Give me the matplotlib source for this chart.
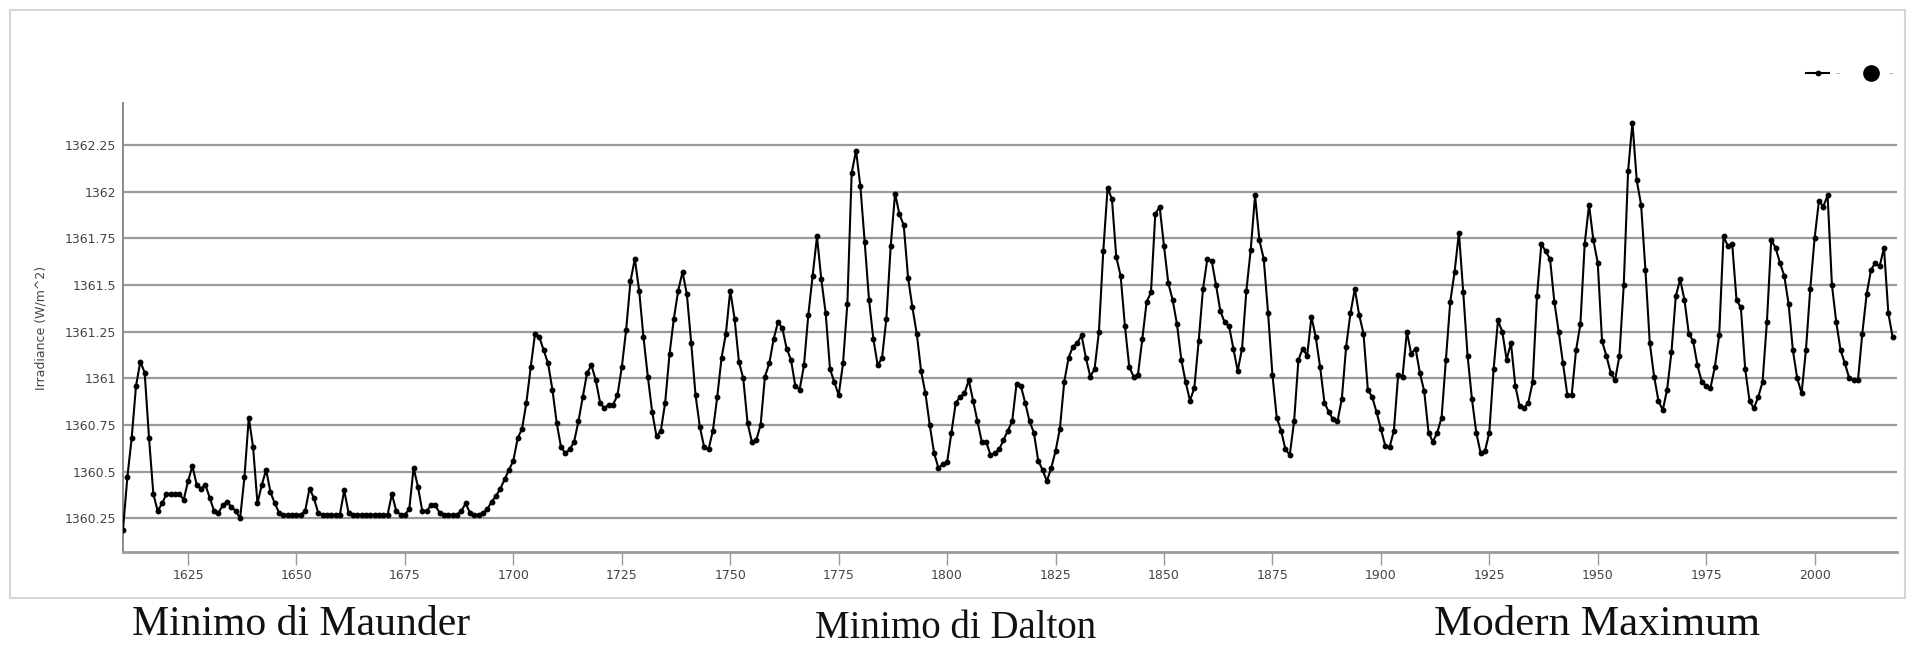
import numpy as np
import matplotlib
matplotlib.use("Agg")
import matplotlib.pyplot as plt
from matplotlib.lines import Line2D
from matplotlib.patches import Rectangle
from matplotlib.ticker import FixedLocator, FixedFormatter

# Total solar irradiance reconstruction, one value per year (W/m^2)
first_year = 1610
last_year = 2018

irr_1610_1699 = [
    1360.19, 1360.47, 1360.68, 1360.96, 1361.09, 1361.03, 1360.68, 1360.38, 1360.29, 1360.33,
    1360.38, 1360.38, 1360.38, 1360.38, 1360.35, 1360.45, 1360.53, 1360.43, 1360.41, 1360.43,
    1360.36, 1360.29, 1360.28, 1360.32, 1360.34, 1360.31, 1360.29, 1360.25, 1360.47, 1360.79,
    1360.63, 1360.33, 1360.43, 1360.51, 1360.39, 1360.33, 1360.28, 1360.27, 1360.27, 1360.27,
    1360.27, 1360.27, 1360.29, 1360.41, 1360.36, 1360.28, 1360.27, 1360.27, 1360.27, 1360.27,
    1360.27, 1360.40, 1360.28, 1360.27, 1360.27, 1360.27, 1360.27, 1360.27, 1360.27, 1360.27,
    1360.27, 1360.27, 1360.38, 1360.29, 1360.27, 1360.27, 1360.30, 1360.52, 1360.42, 1360.29,
    1360.29, 1360.32, 1360.32, 1360.28, 1360.27, 1360.27, 1360.27, 1360.27, 1360.29, 1360.33,
    1360.28, 1360.27, 1360.27, 1360.28, 1360.30, 1360.34, 1360.37, 1360.41, 1360.46, 1360.51,
]

irr_1700_1799 = [
    1360.56, 1360.68, 1360.73, 1360.87, 1361.06, 1361.24, 1361.22, 1361.15, 1361.08, 1360.94,
    1360.76, 1360.63, 1360.60, 1360.62, 1360.66, 1360.77, 1360.90, 1361.03, 1361.07, 1360.99,
    1360.87, 1360.84, 1360.86, 1360.86, 1360.91, 1361.06, 1361.26, 1361.52, 1361.64, 1361.47,
    1361.22, 1361.01, 1360.82, 1360.69, 1360.72, 1360.87, 1361.13, 1361.32, 1361.47, 1361.57,
    1361.45, 1361.19, 1360.91, 1360.74, 1360.63, 1360.62, 1360.72, 1360.90, 1361.11, 1361.24,
    1361.47, 1361.32, 1361.09, 1361.00, 1360.76, 1360.66, 1360.67, 1360.75, 1361.01, 1361.08,
    1361.21, 1361.30, 1361.27, 1361.16, 1361.10, 1360.96, 1360.94, 1361.07, 1361.34, 1361.55,
    1361.76, 1361.53, 1361.35, 1361.05, 1360.98, 1360.91, 1361.08, 1361.40, 1362.10, 1362.22,
    1362.03, 1361.73, 1361.42, 1361.21, 1361.07, 1361.11, 1361.32, 1361.71, 1361.99, 1361.88,
    1361.82, 1361.54, 1361.38, 1361.24, 1361.04, 1360.92, 1360.75, 1360.60, 1360.52, 1360.54,
]

irr_1800_1899 = [
    1360.55, 1360.71, 1360.87, 1360.90, 1360.92, 1360.99, 1360.88, 1360.77, 1360.66, 1360.66,
    1360.59, 1360.60, 1360.62, 1360.67, 1360.72, 1360.77, 1360.97, 1360.96, 1360.87, 1360.77,
    1360.71, 1360.56, 1360.51, 1360.45, 1360.52, 1360.61, 1360.73, 1360.98, 1361.11, 1361.17,
    1361.19, 1361.23, 1361.11, 1361.01, 1361.05, 1361.25, 1361.68, 1362.02, 1361.96, 1361.65,
    1361.55, 1361.28, 1361.06, 1361.01, 1361.02, 1361.21, 1361.41, 1361.46, 1361.88, 1361.92,
    1361.71, 1361.51, 1361.42, 1361.29, 1361.10, 1360.98, 1360.88, 1360.95, 1361.20, 1361.48,
    1361.64, 1361.63, 1361.50, 1361.36, 1361.30, 1361.28, 1361.16, 1361.04, 1361.16, 1361.47,
    1361.69, 1361.98, 1361.74, 1361.64, 1361.35, 1361.02, 1360.79, 1360.72, 1360.62, 1360.59,
    1360.77, 1361.10, 1361.16, 1361.12, 1361.33, 1361.22, 1361.06, 1360.87, 1360.82, 1360.78,
    1360.77, 1360.89, 1361.17, 1361.35, 1361.48, 1361.34, 1361.24, 1360.94, 1360.90, 1360.82,
]

irr_1900_2018 = [
    1360.73, 1360.64, 1360.63, 1360.72, 1361.02, 1361.01, 1361.25, 1361.13, 1361.16, 1361.03,
    1360.93, 1360.71, 1360.66, 1360.71, 1360.79, 1361.10, 1361.41, 1361.57, 1361.78, 1361.46,
    1361.12, 1360.89, 1360.71, 1360.60, 1360.61, 1360.71, 1361.05, 1361.31, 1361.25, 1361.10,
    1361.19, 1360.96, 1360.85, 1360.84, 1360.87, 1360.98, 1361.44, 1361.72, 1361.68, 1361.64,
    1361.41, 1361.25, 1361.08, 1360.91, 1360.91, 1361.15, 1361.29, 1361.72, 1361.93, 1361.74,
    1361.62, 1361.20, 1361.12, 1361.03, 1360.99, 1361.12, 1361.50, 1362.11, 1362.37, 1362.06,
    1361.93, 1361.58, 1361.19, 1361.01, 1360.88, 1360.83, 1360.94, 1361.14, 1361.44, 1361.53,
    1361.42, 1361.24, 1361.20, 1361.07, 1360.98, 1360.96, 1360.95, 1361.06, 1361.23, 1361.76,
    1361.71, 1361.72, 1361.42, 1361.38, 1361.05, 1360.88, 1360.84, 1360.90, 1360.98, 1361.30,
    1361.74, 1361.70, 1361.62, 1361.55, 1361.40, 1361.15, 1361.00, 1360.92, 1361.15, 1361.48,
    1361.75, 1361.95, 1361.92, 1361.98, 1361.50, 1361.30, 1361.15, 1361.08, 1361.00, 1360.99,
    1360.99, 1361.24, 1361.45, 1361.58, 1361.62, 1361.60, 1361.70, 1361.35, 1361.22,
]

x_ticks = [1625, 1650, 1675, 1700, 1725, 1750, 1775, 1800, 1825, 1850,
           1875, 1900, 1925, 1950, 1975, 2000]
y_ticks = [1360.25, 1360.5, 1360.75, 1361, 1361.25, 1361.5, 1361.75, 1362, 1362.25]
y_tick_labels = ["1360.25", "1360.5", "1360.75", "1361", "1361.25",
                 "1361.5", "1361.75", "1362", "1362.25"]
y_label = "Irradiance (W/m^2)"
period_labels = ["Minimo di Maunder", "Minimo di Dalton", "Modern Maximum"]

years = np.arange(first_year, last_year + 1)
irradiance = np.array(irr_1610_1699 + irr_1700_1799 + irr_1800_1899 + irr_1900_2018)

W, H = 1913, 648
fig = plt.figure(figsize=(W / 100, H / 100), dpi=100)
fig.patch.set_facecolor("white")

# light outer frame around the chart block
fig.add_artist(Rectangle((10 / W, 1 - 598 / H), (1905 - 10) / W, (598 - 10) / H,
                         transform=fig.transFigure, fill=False,
                         edgecolor="#d6d6d6", linewidth=1.5))

ax = fig.add_axes([123 / W, 1 - 552 / H, (1897 - 123) / W, (552 - 103) / H])
ax.set_facecolor("white")

for yt in y_ticks:
    ax.axhline(yt, color="#9a9a9a", linewidth=1.6, zorder=1)

ax.plot(years, irradiance, color="black", linewidth=1.5, marker="o",
        markersize=3.2, zorder=3)

ax.set_xlim(1610, 2019)
ax.set_ylim(1360.07, 1362.475)

ax.xaxis.set_major_locator(FixedLocator(x_ticks))
ax.yaxis.set_major_locator(FixedLocator(y_ticks))
ax.yaxis.set_major_formatter(FixedFormatter(y_tick_labels))

for side in ("top", "right"):
    ax.spines[side].set_visible(False)
ax.spines["left"].set_color("#8a8a8a")
ax.spines["left"].set_linewidth(1.4)
ax.spines["bottom"].set_color("#9a9a9a")
ax.spines["bottom"].set_linewidth(2.0)

ax.tick_params(axis="y", length=0, pad=5, labelsize=9, labelcolor="#444444")
ax.tick_params(axis="x", length=9, width=1, color="#9a9a9a", pad=3,
               labelsize=9, labelcolor="#444444")

ax.set_ylabel(y_label, fontsize=9, color="#444444", labelpad=12)

# legend in the top right corner
handles = [
    Line2D([], [], color="black", linewidth=1.5, marker="o", markersize=3.2),
    Line2D([], [], color="black", linewidth=0, marker="o", markersize=11),
]
leg = fig.legend(handles, ["-", "-"], ncol=2, loc="center right",
                 bbox_to_anchor=(1904 / W, 1 - 74 / H), frameon=False,
                 handlelength=1.8, handletextpad=0.5, columnspacing=1.6,
                 fontsize=9)
for t in leg.get_texts():
    t.set_color("#b0b0b0")

# period annotations below the axis
serif = ["Liberation Serif", "DejaVu Serif"]
fig.text(132 / W, 1 - 635 / H, period_labels[0], family=serif, fontsize=30,
         color="#111111", ha="left", va="baseline")
fig.text(815 / W, 1 - 638 / H, period_labels[1], family=serif, fontsize=28,
         color="#111111", ha="left", va="baseline")
fig.text(1434 / W, 1 - 635 / H, period_labels[2], family=serif, fontsize=31,
         color="#111111", ha="left", va="baseline")

fig.savefig("out.png", dpi=100, facecolor="white")
